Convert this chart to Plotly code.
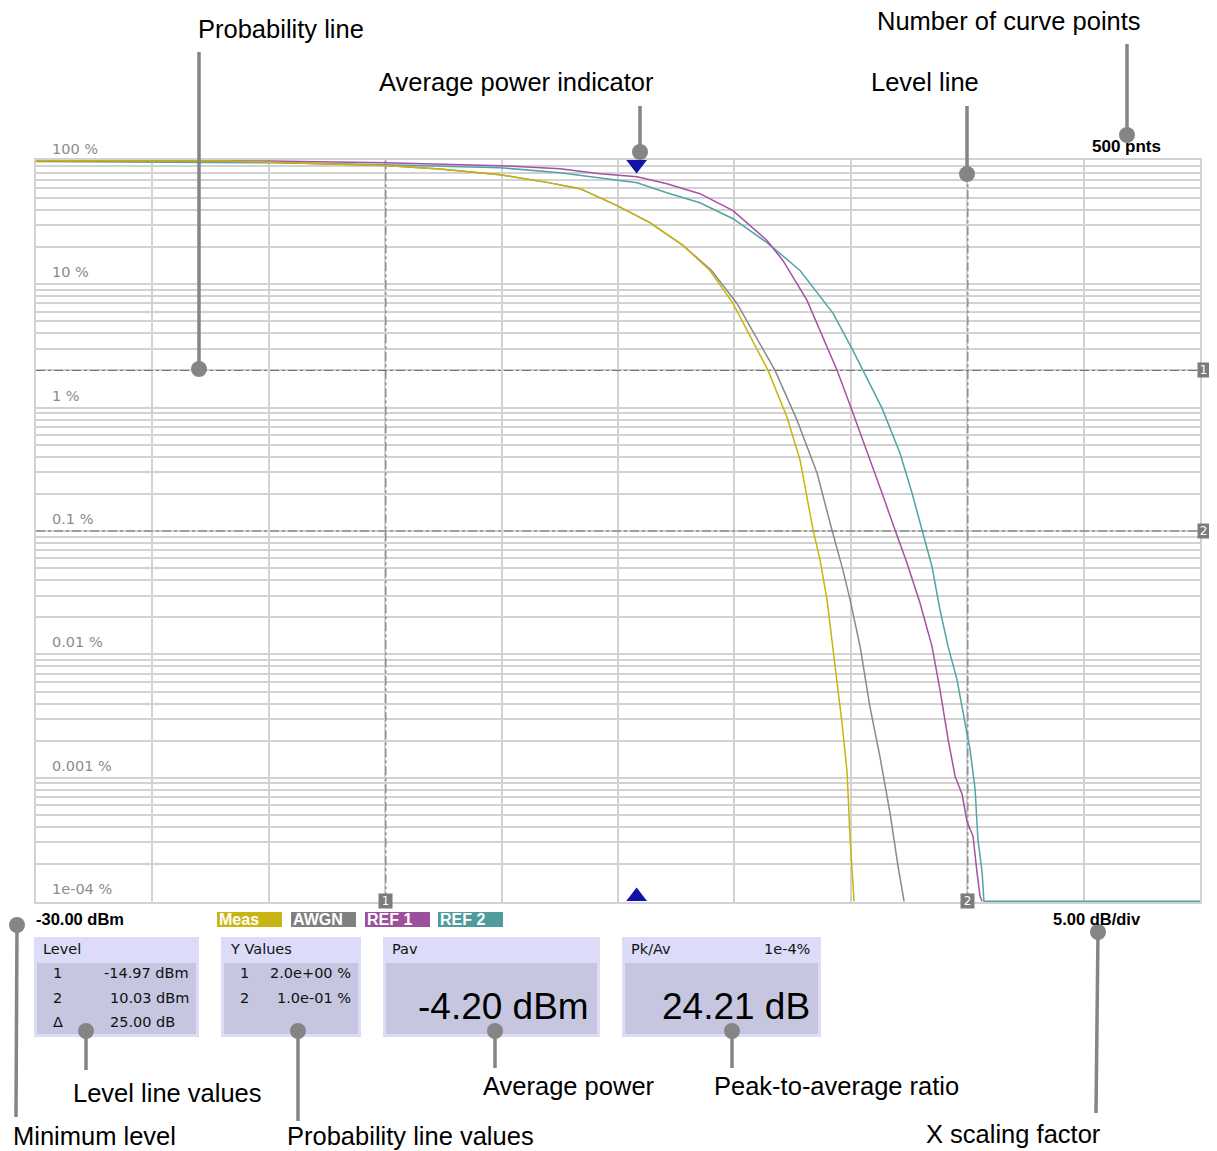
import math
import plotly.graph_objects as go

# ------------------------------------------------------------------ data
x_min_dbm = -30.0
db_per_div = 5.0
n_div = 10
n_points = 500

series_names = ["Meas", "AWGN", "REF 1", "REF 2"]

meas_level = [-30.0, -22.0, -18.5, -15.0, -12.65, -10.07, -8.05, -6.63, -5.04, -3.63,
              -2.21, -1.05, -0.06, 1.01, 1.44, 2.26, 2.82, 3.38, 3.68, 3.98,
              4.19, 4.41, 4.62, 4.84, 4.97, 5.14]
meas_ccdf = [100, 99.5, 95.5, 91.5, 85.7, 77.1, 66.8, 59.4, 43.3, 31.5,
             20.6, 12.9, 6.98, 2.91, 2.01, 0.836, 0.376, 0.102, 0.0584, 0.0277,
             0.01245, 0.00591, 0.00281, 0.00111, 0.000318, 0.0001]

awgn_level = [-30.0, -22.0, -18.5, -15.0, -12.65, -10.07, -8.05, -6.63, -5.04, -3.63,
              -2.21, -1.0, 0.11, 1.40, 1.74, 2.69, 3.55, 4.19, 4.66, 4.97,
              5.40, 5.82, 6.25, 6.68, 7.03, 7.29]
awgn_ccdf = [100, 99.5, 95.5, 91.5, 85.7, 77.1, 66.8, 59.4, 43.3, 31.5,
             20.6, 13.0, 6.98, 2.55, 2.01, 0.791, 0.295, 0.102, 0.0484, 0.0277,
             0.01156, 0.00378, 0.00149, 0.000526, 0.000192, 0.0001]

ref1_level = [-30.0, -20.0, -15.01, -12.65, -10.07, -7.49, -5.77, -4.18, -2.90, -1.48,
              -0.06, 1.40, 2.09, 3.12, 4.02, 4.41, 5.05, 5.70, 6.34, 6.90,
              7.41, 7.97, 8.49, 8.83, 9.18, 9.48, 9.78, 9.99, 10.25, 10.42,
              10.55, 10.64]
ref1_ccdf = [100, 99.5, 96.5, 94.5, 91.2, 86.1, 78.5, 74.2, 65.2, 54.1,
             39.4, 22.6, 15.5, 7.38, 2.91, 2.01, 0.953, 0.428, 0.203, 0.102,
             0.0552, 0.0262, 0.01156, 0.00519, 0.00205, 0.00103, 0.000736, 0.000445, 0.000337, 0.000172,
             0.000110, 0.0001]

ref2_level = [-30.0, -19.52, -15.01, -12.65, -10.07, -7.49, -5.77, -4.18, -2.90, -1.48,
              -0.06, 1.40, 2.82, 4.24, 5.09, 5.52, 6.34, 7.11, 7.63, 8.06,
              8.49, 8.83, 9.18, 9.56, 9.91, 10.12, 10.34, 10.46, 10.64, 10.72,
              20.0]
ref2_ccdf = [98.5, 96.3, 92.9, 91.0, 87.8, 80.0, 72.9, 66.4, 55.1, 45.7,
             33.9, 21.7, 12.9, 5.80, 2.91, 2.01, 0.989, 0.428, 0.203, 0.102,
             0.0513, 0.0230, 0.01156, 0.00625, 0.00281, 0.00170, 0.000807, 0.000318, 0.000172, 0.0001,
             0.0001]

level_lines = [-14.97, 10.03]      # dBm
prob_lines = [2.0, 0.1]            # %
pav_dbm = -4.20
pk_av_db = 24.21
pk_av_prob = "1e-4%"

y_ticks_pct = [100, 10, 1, 0.1, 0.01, 0.001, 0.0001]
y_tick_labels = ["100 %", "10 %", "1 %", "0.1 %", "0.01 %", "0.001 %", "1e-04 %"]

callout_texts = ["Probability line", "Average power indicator", "Level line",
                 "Number of curve points", "Level line values", "Minimum level",
                 "Probability line values", "Average power", "Peak-to-average ratio",
                 "X scaling factor"]

# ------------------------------------------------------------------ styles / geometry
# The page body has an 8 px margin; the figure is drawn 8 px smaller and all
# positions below are given in window pixels.
OFF = 8
WIN_W, WIN_H = 1217, 1151
W, H = WIN_W - OFF, WIN_H - OFF
PL, PR, PT, PB = 36, 1200, 160, 902          # plot area in window pixels

def px(x):
    return (x - PL) / (PR - PL)

def py(y):
    return (PB - y) / (PB - PT)

colors = {"Meas": "#cdb40a", "AWGN": "#8a8a8a", "REF 1": "#a452a4", "REF 2": "#52a4a4"}
legend_box_colors = {"Meas": "#c8b414", "AWGN": "#808080", "REF 1": "#9c509c", "REF 2": "#509c9c"}
grid_col = "#d2d2d2"
ref_line_col = "#6a6a6a"
marker_box_col = "#7c7c7c"
callout_col = "#858585"
box_outer = "#dcdcf8"
box_inner = "#c6c6e0"
INST = "DejaVu Sans"
ARIAL = "Liberation Sans, Arial"

x_max_dbm = x_min_dbm + db_per_div * n_div

fig = go.Figure()

# reference lines (level lines & probability lines)
for v in level_lines:
    fig.add_trace(go.Scatter(x=[v, v], y=[y_ticks_pct[-1], y_ticks_pct[0]], mode="lines",
                             line=dict(color=ref_line_col, width=1, dash="dashdot"),
                             hoverinfo="skip", showlegend=False))
for p in prob_lines:
    fig.add_trace(go.Scatter(x=[x_min_dbm, x_max_dbm], y=[p, p], mode="lines",
                             line=dict(color=ref_line_col, width=1, dash="dashdot"),
                             hoverinfo="skip", showlegend=False))

# curves (drawn back to front)
curves = [("REF 2", ref2_level, ref2_ccdf), ("REF 1", ref1_level, ref1_ccdf),
          ("AWGN", awgn_level, awgn_ccdf), ("Meas", meas_level, meas_ccdf)]
for name, xs, ys in curves:
    fig.add_trace(go.Scatter(x=xs, y=ys, mode="lines", name=name,
                             line=dict(color=colors[name], width=1.5, shape="linear"),
                             showlegend=False))

# average power indicators (top and bottom) on an overlay linear axis
fig.add_trace(go.Scatter(x=[pav_dbm, pav_dbm], y=[py(164.5), py(896.5)], yaxis="y2",
                         mode="markers", cliponaxis=False, showlegend=False,
                         marker=dict(symbol=["triangle-down", "triangle-up"], size=18,
                                     color="#1212a8", line=dict(width=0))))

fig.update_layout(
    width=W, height=H,
    margin=dict(l=PL - OFF, r=WIN_W - PR, t=PT - OFF, b=WIN_H - PB, pad=0),
    paper_bgcolor="white", plot_bgcolor="white",
    showlegend=False,
    xaxis=dict(range=[x_min_dbm, x_max_dbm], tick0=x_min_dbm, dtick=db_per_div,
               showgrid=True, gridcolor=grid_col, gridwidth=2, zeroline=False,
               showticklabels=False, ticks="", showline=True, mirror=True,
               linecolor=grid_col, linewidth=2),
    yaxis=dict(type="log", range=[-4.006, 2.006], dtick=1, showgrid=True,
               gridcolor=grid_col, gridwidth=2, showticklabels=False, ticks="",
               zeroline=False, showline=True, mirror=True, linecolor=grid_col, linewidth=2,
               minor=dict(dtick="D1", showgrid=True, gridcolor=grid_col, gridwidth=2, ticks="")),
    yaxis2=dict(range=[0, 1], overlaying="y", visible=False, fixedrange=True),
)

ann = []
shapes = []

# y labels inside the plot
for v, lab in zip(y_ticks_pct, y_tick_labels):
    ann.append(dict(x=px(50), xref="paper", y=math.log10(v), yref="y", text=lab,
                    xanchor="left", yanchor="bottom", yshift=2, showarrow=False,
                    font=dict(family=INST, size=14.5, color="#8c8c8c")))

# level line markers at bottom
for i, v in enumerate(level_lines):
    ann.append(dict(x=v, xref="x", y=py(900.5), yref="paper", text=str(i + 1),
                    xanchor="center", yanchor="middle", showarrow=False,
                    bgcolor=marker_box_col, width=13, height=14, borderpad=0,
                    font=dict(family=INST, size=12, color="white")))
# probability line markers at right
for i, p in enumerate(prob_lines):
    ann.append(dict(x=px(1203.5), xref="paper", y=math.log10(p), yref="y", text=str(i + 1),
                    xanchor="center", yanchor="middle", showarrow=False,
                    bgcolor=marker_box_col, width=11, height=14, borderpad=0,
                    font=dict(family=INST, size=12, color="white")))

# plot captions
ann.append(dict(x=px(1126), xref="paper", y=py(146), yref="paper", text=f"{n_points} pnts",
                xanchor="center", yanchor="middle", showarrow=False,
                font=dict(family=ARIAL, size=17, color="black", weight="bold")))
ann.append(dict(x=px(34), xref="paper", y=py(919), yref="paper", text=f"{x_min_dbm:.2f} dBm",
                xanchor="left", yanchor="middle", showarrow=False,
                font=dict(family=ARIAL, size=16.5, color="black", weight="bold")))
ann.append(dict(x=px(1143), xref="paper", y=py(919), yref="paper", text=f"{db_per_div:.2f} dB/div",
                xanchor="right", yanchor="middle", showarrow=False,
                font=dict(family=ARIAL, size=16.5, color="black", weight="bold")))

# legend boxes
leg_x = [217, 291, 365, 438]
for name, x0 in zip(series_names, leg_x):
    shapes.append(dict(type="rect", xref="paper", yref="paper", x0=px(x0), x1=px(x0 + 65),
                       y0=py(927), y1=py(912), fillcolor=legend_box_colors[name],
                       line=dict(width=0), layer="above"))
    ann.append(dict(x=px(x0), xref="paper", y=py(919.5), yref="paper", text=name,
                    xanchor="left", yanchor="middle", showarrow=False,
                    font=dict(family=ARIAL, size=16, color="white", weight="bold")))

# info boxes
boxes = [(34, 199), (221, 361), (383, 600), (622, 821)]
for x0, x1 in boxes:
    shapes.append(dict(type="rect", xref="paper", yref="paper", x0=px(x0), x1=px(x1),
                       y0=py(1037), y1=py(937), fillcolor=box_outer, line=dict(width=0)))
    shapes.append(dict(type="rect", xref="paper", yref="paper", x0=px(x0 + 3), x1=px(x1 - 3),
                       y0=py(1034), y1=py(963), fillcolor=box_inner, line=dict(width=0)))

def txt(x, y, s, anchor="left", size=14.5, fam=INST, color="#111111"):
    ann.append(dict(x=px(x), xref="paper", y=py(y), yref="paper", text=s,
                    xanchor=anchor, yanchor="middle", showarrow=False,
                    font=dict(family=fam, size=size, color=color)))

txt(41, 949, "Level")
delta = level_lines[1] - level_lines[0]
rows = [("1", f"{level_lines[0]:.2f} dBm", 191), ("2", f"{level_lines[1]:.2f} dBm", 191),
        ("Δ", f"{delta:.2f} dB", 177)]
for k, (a, b, xr) in enumerate(rows):
    yy = 973 + 24.5 * k
    txt(51, yy, a)
    txt(xr, yy, b, anchor="right")

txt(228, 949, "Y Values")
for k, p in enumerate(prob_lines):
    yy = 973 + 24.5 * k
    txt(238, yy, str(k + 1))
    txt(353, yy, f"{p:.1e} %", anchor="right")

txt(390, 949, "Pav")
txt(591, 1006, f"{pav_dbm:.2f} dBm", anchor="right", size=37, fam=ARIAL, color="#000000")
txt(629, 949, "Pk/Av")
txt(812, 949, pk_av_prob, anchor="right")
txt(812, 1006, f"{pk_av_db:.2f} dB", anchor="right", size=37, fam=ARIAL, color="#000000")

# documentation call-outs: (text centre, line start, line end, dot position)
callout_geo = [
    ((281, 29), (199, 52), (199, 369), (199, 369)),
    ((517, 82), (640, 106), (640, 152), (640, 152)),
    ((925, 82), (967, 106), (967, 174), (967, 174)),
    ((1009, 21), (1127, 44), (1127, 135), (1127, 135)),
    ((167, 1093), (86, 1031), (86, 1070), (86, 1031)),
    ((94, 1136), (17, 925), (16, 1117), (17, 925)),
    ((410, 1136), (298, 1031), (298, 1121), (298, 1031)),
    ((569, 1086), (495, 1031), (495, 1068), (495, 1031)),
    ((836, 1086), (732, 1031), (732, 1068), (732, 1031)),
    ((1013, 1134), (1098, 932), (1096, 1113), (1098, 932)),
]
for label, ((tx, ty), (x0, y0), (x1, y1), (dx, dy)) in zip(callout_texts, callout_geo):
    shapes.append(dict(type="line", xref="paper", yref="paper", x0=px(x0), y0=py(y0),
                       x1=px(x1), y1=py(y1), line=dict(color=callout_col, width=3.5),
                       layer="above"))
    r = 8
    shapes.append(dict(type="circle", xref="paper", yref="paper", x0=px(dx - r), x1=px(dx + r),
                       y0=py(dy + r), y1=py(dy - r), fillcolor=callout_col,
                       line=dict(width=0), layer="above"))
    ann.append(dict(x=px(tx), xref="paper", y=py(ty), yref="paper", text=label,
                    xanchor="center", yanchor="middle", showarrow=False,
                    font=dict(family=ARIAL, size=25.5, color="black")))

fig.update_layout(annotations=ann, shapes=shapes)
fig.write_html("out.html")
